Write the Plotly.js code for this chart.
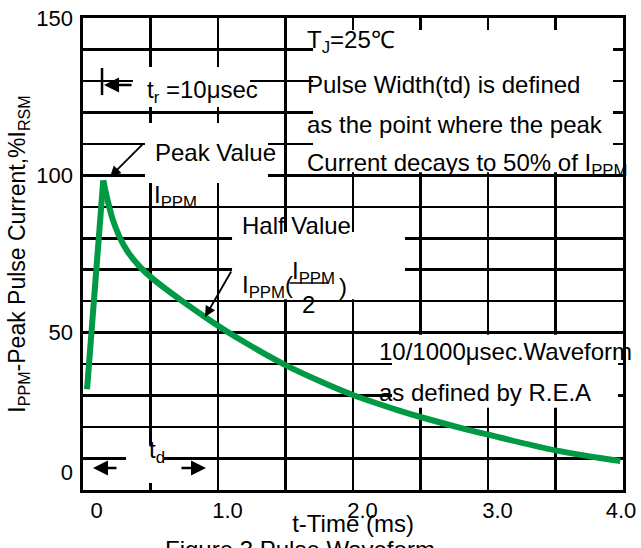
<!DOCTYPE html>
<html>
<head>
<meta charset="utf-8">
<script src="https://cdn.plot.ly/plotly-3.0.1.min.js"></script>
<style>html,body{margin:0;padding:0;background:#fff;}#chart{width:641px;height:548px;}</style>
</head>
<body>
<div id="chart"></div>
<script>
// ---- data ----
const riseTime = [0.03, 0.15];              // ms
const riseCurrent = [32, 98.4];             // % of IRSM
const decayTime = [0.15, 0.18, 0.22, 0.27, 0.33, 0.42, 0.52, 0.72, 0.92, 1.0, 1.16, 1.5, 1.76, 2.0, 2.33, 2.5, 2.81, 3.0, 3.5, 3.98];
const decayCurrent = [98.4, 92.5, 86, 80.5, 75.8, 71, 67, 60.5, 54.5, 52.2, 47.9, 39.7, 34.5, 30.2, 25.4, 23.2, 19.6, 17.6, 12.6, 9.2];
const xTickText = ['0', '1.0', '2.0', '3.0', '4.0'];
const xTickPos = [0.1, 1.07, 2.07, 3.07, 3.985];
const yTickText = ['0', '50', '100', '150'];
const yTickPos = [5.7, 50, 100, 150];

const FONT = 'Liberation Sans, Arial, sans-serif';
const GREEN = '#009944';

const traces = [
  {x: decayTime, y: decayCurrent, mode: 'lines', type: 'scatter',
   line: {color: GREEN, width: 6, shape: 'spline', smoothing: 1}, hoverinfo: 'skip'},
  {x: riseTime, y: riseCurrent, mode: 'lines', type: 'scatter', xaxis: 'x2', yaxis: 'y2',
   line: {color: GREEN, width: 6}, hoverinfo: 'skip'}
];

function mask(x0, x1, y0, y1) {
  return {type: 'rect', xref: 'x', yref: 'y', x0: x0, x1: x1, y0: y0, y1: y1,
          fillcolor: '#fff', line: {width: 0}, layer: 'between'};
}
function seg(x0, y0, x1, y1, w) {
  return {type: 'line', xref: 'x', yref: 'y', x0: x0, y0: y0, x1: x1, y1: y1,
          line: {color: '#000', width: w}, layer: 'above'};
}
function txt(text, x, y, size, anchor) {
  return {text: text, x: x, y: y, xref: 'x', yref: 'y', showarrow: false,
          xanchor: anchor || 'left', yanchor: 'middle', font: {size: size || 24, color: '#000', family: FONT}};
}
function arrow(x, y, ax, ay, w) {
  return {text: '', x: x, y: y, xref: 'x', yref: 'y', ax: ax, ay: ay, showarrow: true,
          arrowhead: 2, arrowsize: 1.2, arrowwidth: w || 1.8, arrowcolor: '#000', standoff: 0};
}

const shapes = [
  mask(0.37, 1.237, 121.7, 134.4),   // t_r label
  mask(0.459, 1.37, 97.6, 116.6),    // Peak Value
  mask(1.104, 2.385, 60.6, 82),      // Half Value / IPPM(IPPM/2)
  mask(0.319, 0.6, 2.2, 14.3),       // t_d
  mask(2.289, 3.963, 26.1, 49.3),    // 10/1000 waveform
  mask(1.704, 3.926, 101, 146.2),    // top right note
  seg(0.141, 125.5, 0.141, 134.1, 2.5),  // t_r bar
  seg(1.53, 65.8, 1.815, 65.8, 1.5)      // fraction bar
];

const annotations = [
  txt('t<sub>r</sub> =10μsec', 0.459, 126.5),
  txt('Peak Value', 0.519, 107.4),
  txt('I<sub>PPM</sub>', 0.511, 93.4),
  txt('Half Value', 1.163, 84.2),
  txt('I<sub>PPM</sub>(', 1.163, 64.6),
  txt('I<sub>PPM</sub>', 1.53, 69.2),
  txt('2', 1.67, 58.8, 24, 'center'),
  txt(')', 1.926, 64.6, 24, 'center'),
  txt('t<sub>d</sub>', 0.474, 12.1),
  txt('10/1000μsec.Waveform', 2.178, 43.9),
  txt('as defined by R.E.A', 2.178, 31.1),
  txt('T<sub>J</sub>=25℃', 1.644, 142.4),
  txt('Pulse Width(td) is defined', 1.644, 129),
  txt('as the point where the peak', 1.644, 116.3),
  txt('Current decays to 50% of I<sub>PPM</sub>', 1.644, 103.6),
  arrow(0.2, 99.5, 35, -35),
  arrow(0.904, 55, 27, -47),
  arrow(-0.005, 128.7, -29, 0, 2.5),
  arrow(0.156, 128.7, 29, 0, 2.5),
  arrow(0.074, 7, 25, 0, 2.5),
  arrow(0.911, 7, -26, 0, 2.5),
  {text: 'Figure 3.Pulse Waveform', xref: 'paper', yref: 'paper', x: 0.148, y: -0.093,
   xanchor: 'left', yanchor: 'top', showarrow: false, font: {size: 24, color: '#000', family: FONT}}
];

const gridAxis = {
  showgrid: true, gridcolor: '#000', gridwidth: 2.5, zeroline: false,
  showline: true, mirror: true, linecolor: '#000', linewidth: 3,
  ticks: '', showticklabels: false, automargin: false, fixedrange: true
};

const layout = {
  width: 641, height: 548,
  margin: {l: 83, r: 18, t: 18, b: 58},
  paper_bgcolor: '#fff', plot_bgcolor: '#fff',
  showlegend: false,
  font: {family: FONT, color: '#000', size: 22},
  xaxis: Object.assign({}, gridAxis, {range: [0, 4], tick0: 0, dtick: 0.5,
    title: {text: 't-Time (ms)', font: {size: 24, color: '#000'}, standoff: 24}}),
  yaxis: Object.assign({}, gridAxis, {range: [0, 150], tick0: 0, dtick: 10,
    title: {text: 'I<sub>PPM</sub>-Peak Pulse Current,%I<sub>RSM</sub>', font: {size: 23, color: '#000'}, standoff: 48}}),
  xaxis2: {overlaying: 'x', anchor: 'y2', side: 'bottom', range: [0, 4], tickmode: 'array',
    tickvals: xTickPos, ticktext: xTickText, showgrid: false, zeroline: false, showline: false,
    ticks: '', ticklabelstandoff: 5, tickfont: {size: 22, color: '#000'}, automargin: false, fixedrange: true},
  yaxis2: {overlaying: 'y', anchor: 'x2', side: 'left', range: [0, 150], tickmode: 'array',
    tickvals: yTickPos, ticktext: yTickText, showgrid: false, zeroline: false, showline: false,
    ticks: '', ticklabelstandoff: 9, tickfont: {size: 22, color: '#000'}, automargin: false, fixedrange: true},
  shapes: shapes,
  annotations: annotations
};

Plotly.newPlot('chart', traces, layout, {displayModeBar: false, staticPlot: true});
</script>
</body>
</html>
